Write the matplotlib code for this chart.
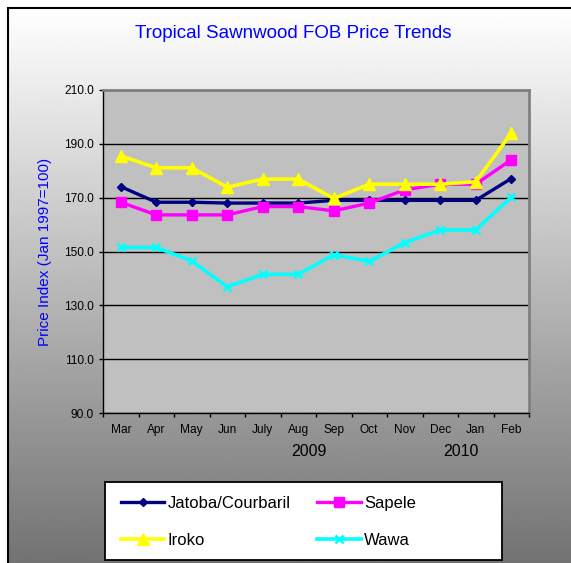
import numpy as np
import matplotlib
matplotlib.use("Agg")
import matplotlib.pyplot as plt
from matplotlib.patches import Rectangle

plt.rcParams['font.family'] = ['Liberation Sans', 'DejaVu Sans']

# data
months = ["Mar", "Apr", "May", "Jun", "July", "Aug", "Sep", "Oct", "Nov", "Dec", "Jan", "Feb"]
jatoba = [174.1, 168.3, 168.3, 168.0, 168.0, 168.0, 169.0, 169.0, 169.0, 169.0, 169.0, 177.1]
sapele = [168.3, 163.6, 163.6, 163.6, 166.7, 166.7, 165.1, 168.0, 172.9, 175.0, 175.0, 184.1]
iroko = [185.5, 181.1, 181.1, 173.9, 176.9, 176.9, 169.7, 175.0, 175.0, 175.0, 175.9, 194.0]
wawa = [151.5, 151.5, 146.5, 136.9, 141.5, 141.5, 148.8, 146.3, 153.3, 158.0, 158.0, 170.2]
years = ["2009", "2010"]

W, H = 571, 563
fig = plt.figure(figsize=(W / 100, H / 100), dpi=100, facecolor="white")

# gradient background inside the outer frame
bg = fig.add_axes([7.5 / W, 0, 1 - 7.5 / W, 1 - 8.5 / H], zorder=-10)
grad = np.linspace(1.0, 0.45, 256).reshape(-1, 1)
bg.imshow(grad, aspect="auto", cmap="gray", vmin=0, vmax=1, extent=[0, 1, 0, 1])
bg.set_axis_off()
fig.patches.append(Rectangle((7.5 / W, -0.05), 1.2, 1.05 - 8.5 / H, transform=fig.transFigure,
                             fill=False, edgecolor="black", lw=1.5, zorder=5))

ax = fig.add_axes([103 / W, 1 - 413 / H, 426 / W, 323 / H])
ax.set_facecolor("#c0c0c0")
x = np.arange(len(months))

l1, = ax.plot(x, jatoba, color="#000080", lw=2.4, marker="D", ms=4, label="Jatoba/Courbaril", zorder=3)
l2, = ax.plot(x, sapele, color="#ff00ff", lw=2.4, marker="s", ms=6.5, label="Sapele", zorder=3)
l3, = ax.plot(x, iroko, color="#ffff00", lw=2.6, marker="^", ms=8, label="Iroko", zorder=3)
l4, = ax.plot(x, wawa, color="#00ffff", lw=2.6, marker="x", ms=6, mew=1.8, label="Wawa", zorder=3)

ax.set_ylim(90, 210)
ax.set_yticks(np.arange(90, 211, 20))
ax.set_yticklabels([f"{v:.1f}" for v in np.arange(90, 211, 20)], fontsize=8.6)
ax.yaxis.grid(True, color="black", lw=1)
ax.set_axisbelow(True)

ax.set_xlim(-0.5, len(months) - 0.5)
ax.set_xticks(np.arange(-0.5, len(months), 1))
ax.set_xticklabels([])
ax.set_xticks(x, minor=True)
ax.set_xticklabels(months, minor=True, fontsize=8.6)
ax.tick_params(axis="x", which="minor", length=0, pad=8)
ax.tick_params(axis="both", which="major", direction="out", length=3, width=1, color="black", pad=3.5)

for s in ["top", "right"]:
    ax.spines[s].set_color("#808080")
    ax.spines[s].set_linewidth(2)
for s in ["left", "bottom"]:
    ax.spines[s].set_color("black")
    ax.spines[s].set_linewidth(1)

# texts
fig.text(293 / W, 1 - 34 / H, "Tropical Sawnwood FOB Price Trends", color="#0000ff",
         fontsize=13.5, ha="center", va="center")
fig.text(45 / W, 1 - 252 / H, "Price Index (Jan 1997=100)", color="#0000ff",
         fontsize=11, rotation=90, ha="center", va="center")
fig.text(309 / W, 1 - 451 / H, years[0], fontsize=11.5, ha="center", va="center")
fig.text(461 / W, 1 - 451 / H, years[1], fontsize=11.5, ha="center", va="center")

# legend (column-major order so rows read Jatoba, Sapele / Iroko, Wawa)
fig.patches.append(Rectangle((105 / W, 1 - 560 / H), 397 / W, 78 / H, transform=fig.transFigure,
                             facecolor="white", edgecolor="black", lw=1.3, zorder=6))
handles = [l1, l3, l2, l4]
leg = fig.legend(handles, [h.get_label() for h in handles], ncol=2, loc="center left",
                 bbox_to_anchor=(121 / W, 1 - 522 / H),
                 frameon=False, fontsize=12, handlelength=2.6, handletextpad=0.2,
                 columnspacing=1.6, labelspacing=1.35, borderpad=0, borderaxespad=0)
leg.set_zorder(7)

fig.savefig("out.png", dpi=100)
